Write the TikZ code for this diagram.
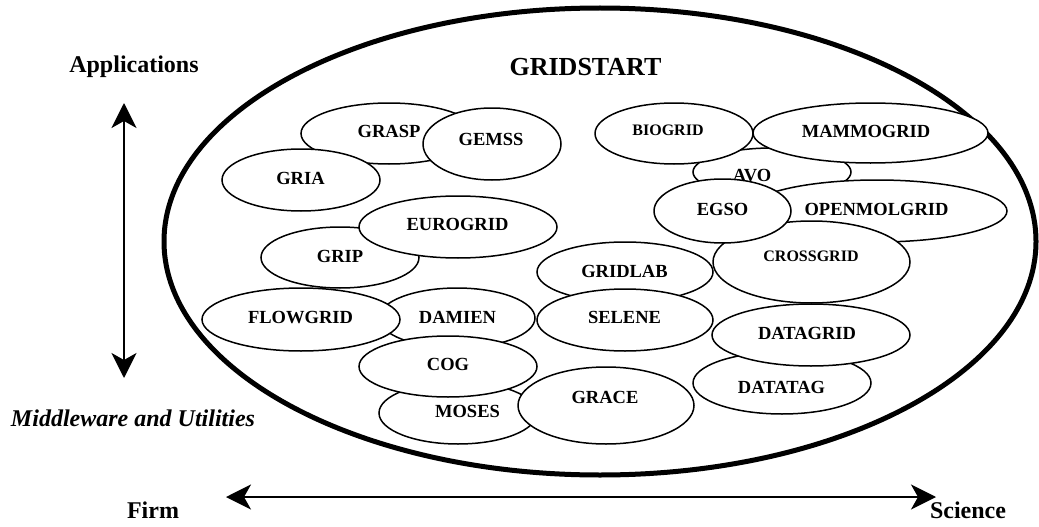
\documentclass[tikz,border=0pt]{standalone}
\usepackage{fontspec}
\setmainfont{Liberation Serif}
\usetikzlibrary{shapes.geometric,arrows.meta}
\tikzset{
  ell/.style={ellipse, draw, fill=white, line width=1.5pt, inner sep=0pt, outer sep=0pt},
  lbl/.style={inner sep=0pt, anchor=base, font=\bfseries\fontsize{18.5}{20}\selectfont},
  slbl/.style={inner sep=0pt, anchor=base, font=\bfseries\fontsize{16}{18}\selectfont},
  side/.style={inner sep=0pt, anchor=base, font=\bfseries\fontsize{24}{26}\selectfont},
  axis/.style={line width=2pt, {Stealth[length=25pt,width=25pt,inset=7pt]}-{Stealth[length=25pt,width=25pt,inset=7pt]}}
}
\begin{document}
\begin{tikzpicture}[x=1pt,y=-1pt]
\useasboundingbox (0,0) rectangle (1039,527);
% big ellipse
\node[ellipse, draw, line width=5pt, inner sep=0pt, minimum width=872pt, minimum height=467pt] (big) at (600,241.5) {};
\node[inner sep=0pt, anchor=base, font=\bfseries\fontsize{26}{28}\selectfont] (title) at (585.5,75) {GRIDSTART};
% side labels
\node[side] (app) at (134,73) {Applications};
\node[side, font=\bfseries\itshape\fontsize{24}{26}\selectfont] (mid) at (133,426) {Middleware and Utilities};
\node[side] (firm) at (153,518) {Firm};
\node[side] (sci) at (968,518) {Science};
\coordinate (vt) at (124,103);
\coordinate (vb) at (124,378);
\coordinate (hl) at (226,497);
\coordinate (hr) at (936,497);
\draw[axis] (vt) -- (vb);
\draw[axis] (hl) -- (hr);
% left cluster
\node[ell, minimum width=176pt, minimum height=61pt] (grasp) at (389,133.5) {};
\node[lbl] (tgrasp) at (389,137) {GRASP};
\node[ell, minimum width=138pt, minimum height=72pt] (gemss) at (492,144) {};
\node[lbl] (tgemss) at (491,145) {GEMSS};
\node[ell, minimum width=158pt, minimum height=62pt] (gria) at (301,180) {};
\node[lbl] (tgria) at (300.5,184) {GRIA};
\node[ell, minimum width=158pt, minimum height=61pt] (grip) at (340,257.5) {};
\node[lbl] (tgrip) at (340,262) {GRIP};
\node[ell, minimum width=198pt, minimum height=62pt] (euro) at (458,227) {};
\node[lbl] (teuro) at (457.5,230) {EUROGRID};
% middle cluster
\node[ell, minimum width=156pt, minimum height=60pt] (damien) at (457,318) {};
\node[lbl] (tdamien) at (457.5,323) {DAMIEN};
\node[ell, minimum width=198pt, minimum height=63pt] (flow) at (301,319.5) {};
\node[lbl] (tflow) at (300.5,323) {FLOWGRID};
\node[ell, minimum width=158pt, minimum height=62pt] (moses) at (458,413) {};
\node[lbl] (tmoses) at (467.5,417) {MOSES};
\node[ell, minimum width=176pt, minimum height=77pt] (grace) at (606,405.5) {};
\node[lbl] (tgrace) at (605,403) {GRACE};
\node[ell, minimum width=178pt, minimum height=61pt] (cog) at (448,366.5) {};
\node[lbl] (tcog) at (448,370) {COG};
\node[ell, minimum width=176pt, minimum height=60pt] (gridlab) at (625,272) {};
\node[lbl] (tgridlab) at (624.5,277) {GRIDLAB};
\node[ell, minimum width=176pt, minimum height=62pt] (selene) at (625,320) {};
\node[lbl] (tselene) at (624.5,323) {SELENE};
% right cluster
\node[ell, minimum width=158pt, minimum height=48pt] (avo) at (772,172) {};
\node[lbl] (tavo) at (752,181) {AVO};
\node[ell, minimum width=158pt, minimum height=61pt] (bio) at (674,133.5) {};
\node[slbl] (tbio) at (668,135) {BIOGRID};
\node[ell, minimum width=235pt, minimum height=60pt] (mammo) at (870.5,133) {};
\node[lbl] (tmammo) at (866,137) {MAMMOGRID};
\node[ell, minimum width=260pt, minimum height=62pt] (openmol) at (877,211) {};
\node[lbl] (topenmol) at (876.5,215) {OPENMOLGRID};
\node[ell, minimum width=197pt, minimum height=82pt] (cross) at (811.5,262) {};
\node[slbl] (tcross) at (811,261) {CROSSGRID};
\node[ell, minimum width=137pt, minimum height=64pt] (egso) at (722.5,211) {};
\node[lbl] (tegso) at (722.5,215) {EGSO};
\node[ell, minimum width=178pt, minimum height=62pt] (datatag) at (782,383) {};
\node[lbl] (tdatatag) at (781.5,393) {DATATAG};
\node[ell, minimum width=198pt, minimum height=62pt] (datagrid) at (811,335) {};
\node[lbl] (tdatagrid) at (807,339) {DATAGRID};
\end{tikzpicture}
\end{document}
